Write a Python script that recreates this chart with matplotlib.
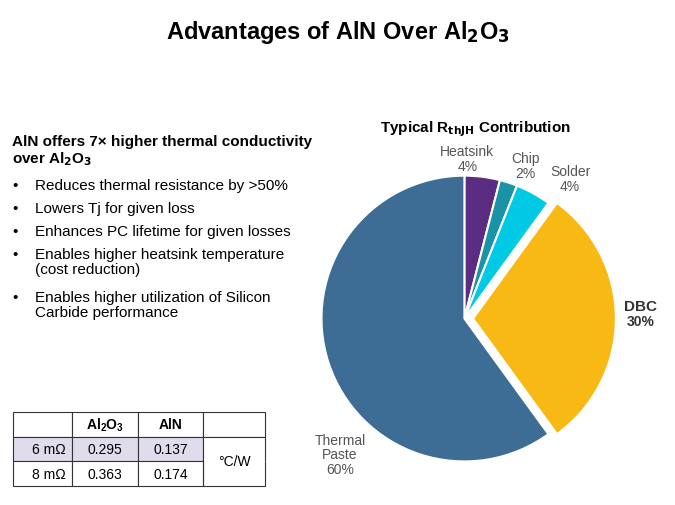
import matplotlib.pyplot as plt

# pie data
parts = ["Heatsink", "Chip", "Solder", "DBC", "Thermal\nPaste"]
shares = [4, 2, 4, 30, 60]
colors = ["#5b2d82", "#1a93a6", "#00c9e3", "#f9b915", "#3d6d95"]
explode = [0, 0, 0, 0.06, 0]

# table data
col_labels = ["", "Al$_\\mathregular{2}$O$_\\mathregular{3}$", "AlN", ""]
row_labels = ["6 m\u03a9", "8 m\u03a9"]
al2o3 = ["0.295", "0.363"]
aln = ["0.137", "0.174"]

bullets = [
    "Reduces thermal resistance by >50%",
    "Lowers Tj for given loss",
    "Enhances PC lifetime for given losses",
    "Enables higher heatsink temperature\n(cost reduction)",
    "Enables higher utilization of Silicon\nCarbide performance",
]

plt.rcParams["font.family"] = "Liberation Sans"
plt.rcParams["mathtext.default"] = "regular"
fig = plt.figure(figsize=(6.75, 5.06), dpi=100)

fig.text(0.5, 0.935, "Advantages of AlN Over Al$_\\mathbf{2}$O$_\\mathbf{3}$", ha="center",
         va="center", fontsize=17, fontweight="bold")

# pie
ax = fig.add_axes([0.462, 0.072, 0.452, 0.593])
wedges, _ = ax.pie(shares, colors=colors, startangle=90, counterclock=False,
                   explode=explode, wedgeprops=dict(edgecolor="white", linewidth=1.5))
ax.set_aspect("equal")
ax.text(0.08, 1.31, "Typical R$_\\mathbf{thJH}$ Contribution", ha="center",
        fontsize=11, fontweight="bold")
lbl_pos = [(0.02, 1.12), (0.43, 1.07), (0.74, 0.98), (1.23, 0.0), (-0.87, -0.95)]
for name, v, (x, y) in zip(parts, shares, lbl_pos):
    if name == "DBC":
        ax.text(x, y + 0.04, name, ha="center", va="bottom", fontsize=11, fontweight="bold", color="#333333")
        ax.text(x, y + 0.03, f"{v}%", ha="center", va="top", fontsize=10, fontweight="bold", color="#333333")
    else:
        ax.text(x, y, f"{name}\n{v}%", ha="center", va="center", fontsize=10, color="#555555",
                linespacing=1.05)
ax.set_xlim(-1.05, 1.05)
ax.set_ylim(-1.05, 1.05)

# left text
fig.text(0.018, 0.70, "AlN offers 7\u00d7 higher thermal conductivity\nover Al$_\\mathbf{2}$O$_\\mathbf{3}$",
         fontsize=11, fontweight="bold", va="center", linespacing=1.15)
ys = [0.646, 0.600, 0.556, 0.510, 0.425]
for b, y in zip(bullets, ys):
    fig.text(0.018, y, "\u2022", fontsize=11, va="top")
    fig.text(0.052, y, b, fontsize=11, va="top", linespacing=1.1)

# table
tax = fig.add_axes([0.019, 0.037, 0.374, 0.147])
tax.axis("off")
cells = [[r, a, b, ""] for r, a, b in zip(row_labels, al2o3, aln)]
tbl = tax.table(cellText=[col_labels] + cells, cellLoc="center", bbox=[0, 0, 1, 1],
                colWidths=[59, 66, 65, 62])
tbl.auto_set_font_size(False)
for (r, c), cell in tbl.get_celld().items():
    cell.set_edgecolor("#333333")
    cell.set_linewidth(0.8)
    cell.get_text().set_fontsize(10)
    if r == 0:
        cell.get_text().set_fontweight("bold")
    if r == 1 and c < 3:
        cell.set_facecolor("#e0dcec")
    if c == 0 and r > 0:
        cell.get_text().set_ha("right")
        cell._loc = "right"
    if c == 3 and r > 0:
        cell.visible_edges = "LRT" if r == 1 else "LRB"
tax.text(0.876, 1 / 3, "\u00b0C/W", ha="center", va="center", fontsize=10, transform=tax.transAxes)

fig.savefig("out.png", dpi=100)
